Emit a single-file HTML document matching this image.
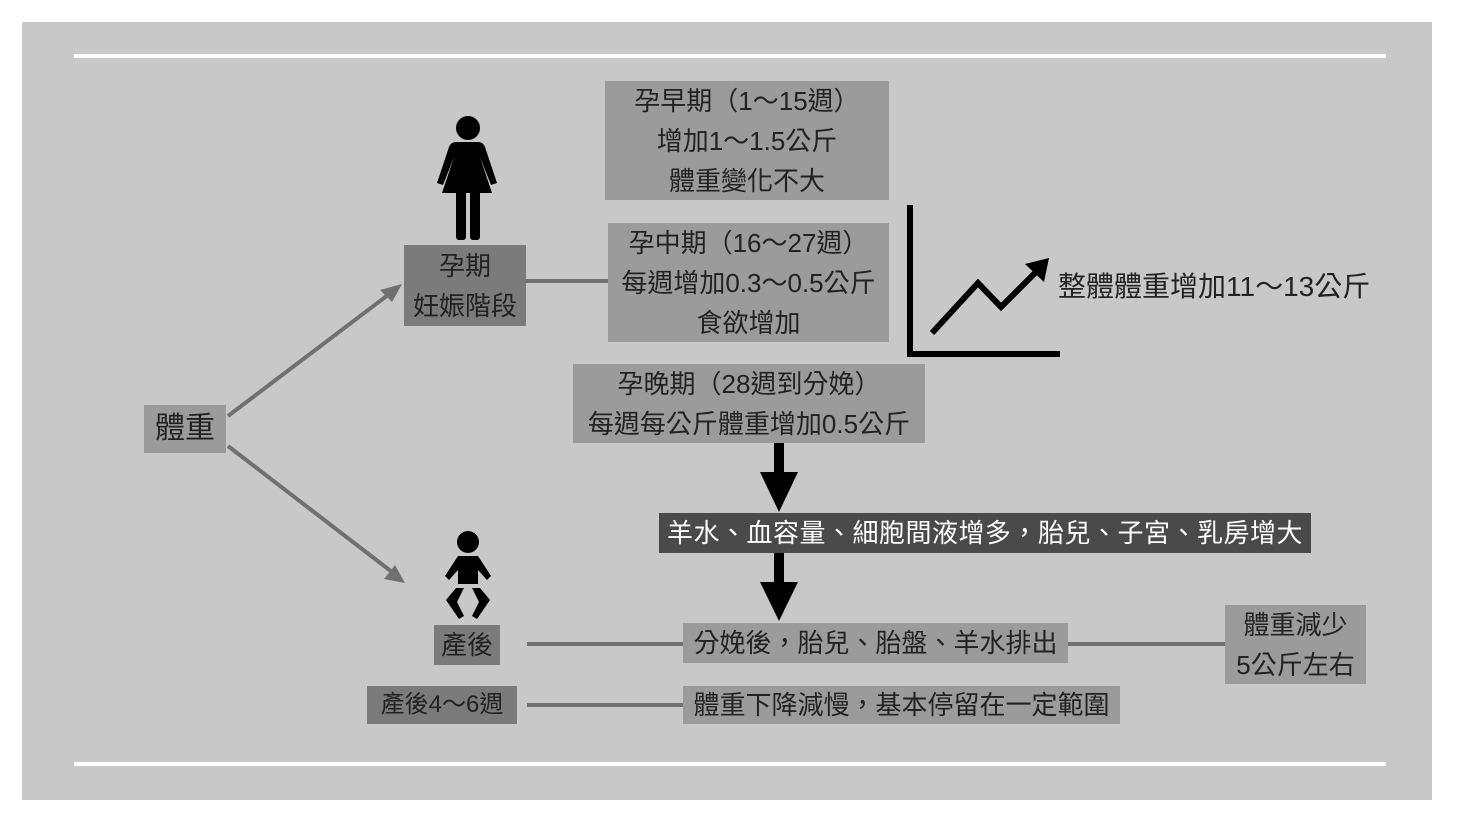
<!DOCTYPE html>
<html><head><meta charset="utf-8"><style>
body{margin:0;width:1460px;height:822px;background:#fff;position:relative;overflow:hidden;font-family:"Liberation Sans","Noto Sans CJK TC",sans-serif;color:#222}
.p{position:absolute;left:22px;top:22px;width:1410px;height:778px;background:#c8c8c8}
.b{position:absolute;background:#9b9b9b;display:flex;align-items:center;justify-content:center;text-align:center;font-size:26px;line-height:40px;white-space:nowrap}
.d{background:#7b7b7b}
svg{position:absolute;left:0;top:0}
</style></head><body>
<div class="p"></div>
<svg width="1460" height="822">
<rect x="74" y="54" width="1312" height="4" fill="#fff"/>
<rect x="74" y="762" width="1312" height="4" fill="#fff"/>
<g stroke="#707070" stroke-width="4">
<line x1="228" y1="416" x2="388" y2="295"/>
<line x1="228" y1="446" x2="392" y2="572"/>
<line x1="526" y1="281" x2="608" y2="281"/>
<line x1="527" y1="644" x2="683" y2="644"/>
<line x1="1068" y1="644" x2="1225" y2="644"/>
<line x1="527" y1="705" x2="683" y2="705"/>
</g>
<polygon points="402,284 380,290 392,302" fill="#707070"/>
<polygon points="405,583 384,579 395,565" fill="#707070"/>
<rect x="774" y="443" width="10" height="30" fill="#000"/>
<polygon points="760,472 798,472 779,512" fill="#000"/>
<rect x="774" y="553" width="10" height="30" fill="#000"/>
<polygon points="760,582 798,582 779,621" fill="#000"/>
<g stroke="#000" stroke-width="6" fill="none">
<polyline points="910,205 910,354 1060,354"/>
<polyline points="932,333 978,283 1001,307 1038,270"/>
</g>
<polygon points="1049,258 1044,282 1025,264" fill="#000"/>
<g fill="#000">
<circle cx="468" cy="128" r="12"/>
<path d="M458,142 h20 q5,0 7,5 l12,36 -6,2 -11,-28 12,36 h-50 l12,-36 -11,28 -6,-2 12,-36 q2,-5 7,-5 z"/>
<rect x="456" y="190" width="10" height="50" rx="3"/>
<rect x="470" y="190" width="10" height="50" rx="3"/>
<circle cx="468" cy="542" r="11"/>
<path d="M458,556 h20 l13,20 -4,4 -9,-10 v14 h-20 v-14 l-9,10 -4,-4 z"/>
<path d="M446,600 l10,-12 h8 l-7,14 7,14 -5,3 z M490,600 l-10,-12 h-8 l7,14 -7,14 5,3 z"/>
</g>
</svg>
<div class="b" style="left:605px;top:81px;width:284px;height:119px">孕早期（1～15週）<br>增加1～1.5公斤<br>體重變化不大</div>
<div class="b" style="left:608px;top:223px;width:281px;height:119px">孕中期（16～27週）<br>每週增加0.3～0.5公斤<br>食欲增加</div>
<div class="b d" style="left:404px;top:245px;width:122px;height:81px">孕期<br>妊娠階段</div>
<div class="b" style="left:573px;top:364px;width:352px;height:79px">孕晚期（28週到分娩）<br>每週每公斤體重增加0.5公斤</div>
<div class="b" style="left:144px;top:405px;width:82px;height:48px;font-size:30px">體重</div>
<div class="b" style="left:659px;top:513px;width:652px;height:40px;background:#4a4a4a;color:#fff;font-size:26px;letter-spacing:0.5px">羊水、血容量、細胞間液增多，胎兒、子宮、乳房增大</div>
<div class="b d" style="left:434px;top:625px;width:66px;height:40px">產後</div>
<div class="b" style="left:683px;top:623px;width:385px;height:40px">分娩後，胎兒、胎盤、羊水排出</div>
<div class="b" style="left:1225px;top:605px;width:141px;height:79px">體重減少<br>5公斤左右</div>
<div class="b d" style="left:367px;top:686px;width:150px;height:38px;font-size:24px">產後4～6週</div>
<div class="b" style="left:683px;top:686px;width:437px;height:38px">體重下降減慢，基本停留在一定範圍</div>
<div style="position:absolute;left:1058px;top:265px;font-size:28px;white-space:nowrap">整體體重增加11～13公斤</div>
</body></html>
